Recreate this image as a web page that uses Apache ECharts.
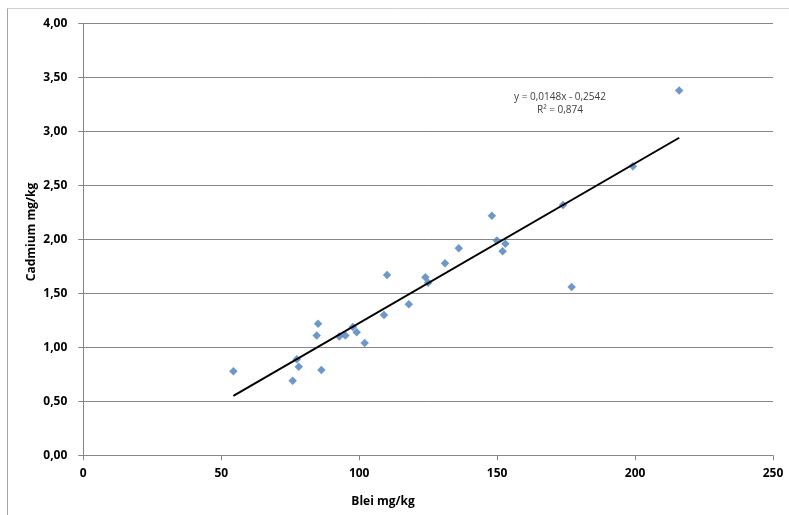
<!DOCTYPE html>
<html>
<head>
<meta charset="utf-8">
<script src="https://cdn.jsdelivr.net/npm/echarts@6/dist/echarts.min.js"></script>
<style>html,body{margin:0;padding:0;background:#fff}#c{width:789px;height:515px}</style>
</head>
<body>
<div id="c"></div>
<script>
// Data
const bleiValues = [54.4, 75.9, 77.4, 78.1, 85.1, 84.6, 86.3, 92.8, 95.0, 97.7, 99.1, 102.0, 109.0, 110.1, 118.0, 124.0, 125.0, 131.1, 136.1, 148.1, 149.9, 153.0, 152.0, 173.9, 177.0, 199.2, 216.0];
const cadmiumValues = [0.78, 0.69, 0.89, 0.82, 1.22, 1.11, 0.79, 1.10, 1.11, 1.19, 1.14, 1.04, 1.30, 1.67, 1.40, 1.65, 1.60, 1.78, 1.92, 2.22, 1.99, 1.96, 1.89, 2.32, 1.56, 2.68, 3.38];
const trendX = [54.4, 216.0];
const trendY = [0.551, 2.943];
const equationLines = ['y = 0,0148x - 0,2542', 'R² = 0,874'];
const xTicks = [0, 50, 100, 150, 200, 250];
const yTicks = [0, 0.5, 1, 1.5, 2, 2.5, 3, 3.5, 4];
const xName = 'Blei mg/kg';
const yName = 'Cadmium mg/kg';

const points = bleiValues.map((x, i) => [x, cadmiumValues[i]]);
const trend = trendX.map((x, i) => [x, trendY[i]]);

const chart = echarts.init(document.getElementById('c'), null, {renderer: 'canvas'});
const FONT = '"Open Sans", "Liberation Sans", sans-serif';
const lblFont = {fontFamily: FONT, fontWeight: 'bold', fontSize: 12, color: '#000'};
chart.setOption({
  animation: false,
  grid: {left: 83.3, right: 16, top: 23.7, bottom: 59.7},
  xAxis: {
    type: 'value', min: xTicks[0], max: xTicks[xTicks.length - 1], interval: 50,
    axisLine: {show: true, onZero: false, lineStyle: {color: '#868686', width: 1}},
    axisTick: {show: true, length: 5, lineStyle: {color: '#868686'}},
    axisLabel: Object.assign({margin: 12}, lblFont),
    splitLine: {show: false}
  },
  yAxis: {
    type: 'value', min: yTicks[0], max: yTicks[yTicks.length - 1], interval: 0.5,
    axisLine: {show: true, onZero: false, lineStyle: {color: '#868686', width: 1}},
    axisTick: {show: true, length: 5, lineStyle: {color: '#868686'}},
    axisLabel: Object.assign({margin: 16, formatter: v => v.toFixed(2).replace('.', ',')}, lblFont),
    splitLine: {show: true, lineStyle: {color: '#868686', width: 1}}
  },
  series: [
    {
      type: 'line', data: trend, symbol: 'none', silent: true,
      lineStyle: {color: '#000', width: 2}, z: 3
    },
    {
      type: 'scatter', data: points, symbol: 'diamond', symbolSize: 8.5,
      itemStyle: {color: '#4A7EBB'}, z: 2
    }
  ],
  graphic: [
    {type: 'line', shape: {x1: 7.5, y1: 8.5, x2: 789, y2: 8.5}, style: {stroke: '#d0d0d0', lineWidth: 1}},
    {type: 'line', shape: {x1: 7.5, y1: 8.5, x2: 7.5, y2: 515}, style: {stroke: '#a6a6a6', lineWidth: 1}},
    {type: 'text', x: 31.5, y: 232, rotation: Math.PI / 2,
      style: {text: yName, x: 0, y: 0, fill: '#000',
      font: 'bold 12px ' + FONT, textAlign: 'center', textVerticalAlign: 'middle'}},
    {type: 'text', style: {text: xName, x: 383, y: 502, fill: '#000',
      font: 'bold 12px ' + FONT, textAlign: 'center', textVerticalAlign: 'middle'}},
    {type: 'text', style: {text: equationLines[0], x: 560, y: 97, fill: '#404040',
      font: '10px ' + FONT, textAlign: 'center', textVerticalAlign: 'middle'}},
    {type: 'text', style: {text: equationLines[1], x: 560, y: 110, fill: '#404040',
      font: '10px ' + FONT, textAlign: 'center', textVerticalAlign: 'middle'}}
  ]
});
</script>
</body>
</html>
